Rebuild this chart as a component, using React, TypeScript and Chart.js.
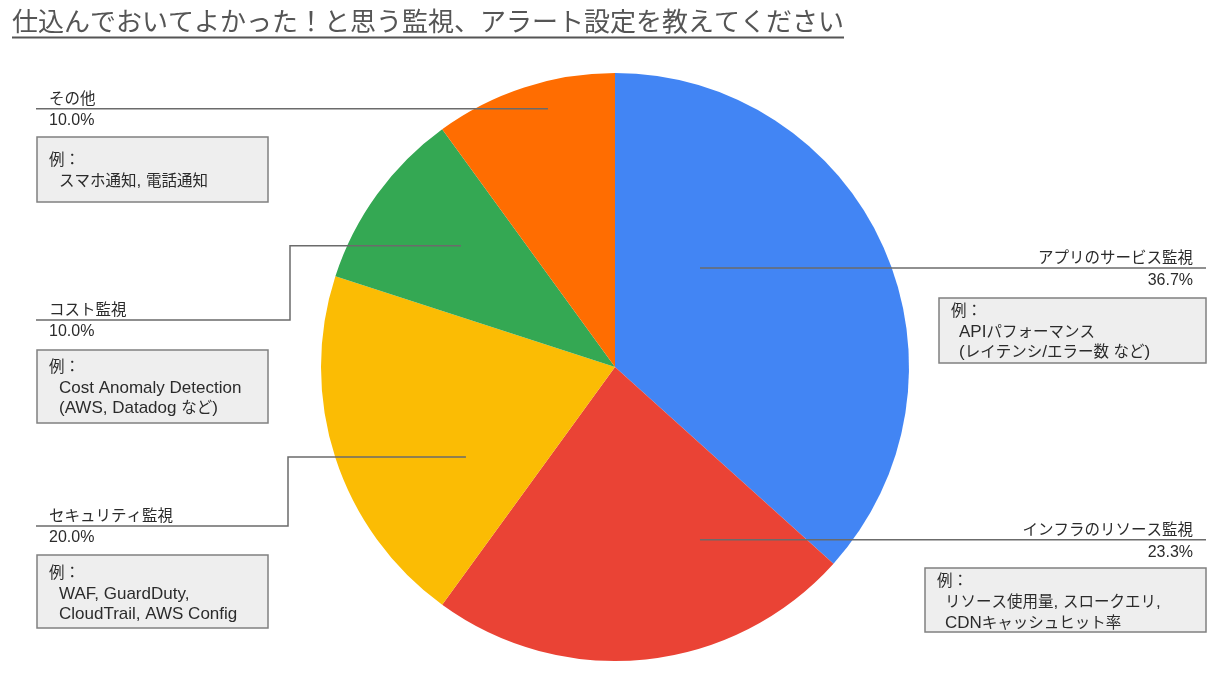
import { Chart, registerables, ChartItem } from "chart.js";
import { useEffect, useRef } from "react";

Chart.register(...registerables);

const title = "仕込んでおいてよかった！と思う監視、アラート設定を教えてください";

const categories = [
  "アプリのサービス監視",
  "インフラのリソース監視",
  "セキュリティ監視",
  "コスト監視",
  "その他",
];

// number of answers per category (30 in total)
const responses = [11, 7, 6, 3, 3];

const sliceColors = ["#4285F4", "#EA4335", "#FBBC04", "#34A853", "#FF6D01"];

const examples = [
  ["APIパフォーマンス", "(レイテンシ/エラー数 など)"],
  ["リソース使用量, スロークエリ,", "CDNキャッシュヒット率"],
  ["WAF, GuardDuty,", "CloudTrail, AWS Config"],
  ["Cost Anomaly Detection", "(AWS, Datadog など)"],
  ["スマホ通知, 電話通知"],
];

const LATIN = '"Liberation Sans", Arial, sans-serif';
const CJK = '"Noto Sans CJK JP", sans-serif';

interface ILabelLayout {
  side: "left" | "right";
  anchor: [number, number]; // relative to pie centre, in radius units
  elbowX?: number;
  lineY?: number;
  box: { x: number; y: number; w: number; h: number; first: number; lh: number };
}

const layout: ILabelLayout[] = [
  { side: "right", anchor: [0.289, -0.337], box: { x: 939, y: 298, w: 267, h: 65, first: 18, lh: 20.5 } },
  { side: "right", anchor: [0.289, 0.588], box: { x: 925, y: 568, w: 281, h: 64, first: 18, lh: 21 } },
  { side: "left", anchor: [-0.507, 0.306], elbowX: 288, lineY: 526, box: { x: 37, y: 555, w: 231, h: 73, first: 23, lh: 20.5 } },
  { side: "left", anchor: [-0.524, -0.412], elbowX: 290, lineY: 320, box: { x: 37, y: 350, w: 231, h: 73, first: 22, lh: 20.5 } },
  { side: "left", anchor: [-0.228, -0.878], box: { x: 37, y: 137, w: 231, h: 65, first: 28, lh: 21 } },
];

const total = responses.reduce((a, b) => a + b, 0);

// draws text where japanese runs and latin runs use a slightly different size
function drawMixed(
  ctx: CanvasRenderingContext2D,
  text: string,
  x: number,
  y: number,
  align: "left" | "right",
  cjkSize: number,
  latinSize: number
) {
  const runs = text.split(/([\u3000-\u30ff\u3400-\u9fff\uff00-\uffef]+)/).filter((r) => r.length > 0);
  const fonts = runs.map((r) =>
    /[\u3000-\u30ff\u3400-\u9fff\uff00-\uffef]/.test(r) ? `${cjkSize}px ${CJK}` : `${latinSize}px ${LATIN}`
  );
  const widths = runs.map((r, i) => {
    ctx.font = fonts[i];
    return ctx.measureText(r).width;
  });
  let cx = align === "right" ? x - widths.reduce((a, b) => a + b, 0) : x;
  ctx.textAlign = "left";
  runs.forEach((r, i) => {
    ctx.font = fonts[i];
    ctx.fillText(r, cx, y);
    cx += widths[i];
  });
}

const labelPlugin = {
  id: "sliceLabels",
  afterDraw(chart: Chart) {
    const ctx = chart.ctx;
    ctx.save();
    ctx.textBaseline = "alphabetic";

    // title with underline
    ctx.font = `26px ${CJK}`;
    ctx.fillStyle = "#555555";
    ctx.textAlign = "left";
    ctx.fillText(title, 12, 31);
    const tw = ctx.measureText(title).width;
    ctx.fillRect(12, 36.5, tw, 2);

    const meta = chart.getDatasetMeta(0);
    layout.forEach((lay, i) => {
      const arc: any = meta.data[i];
      const { x, y, outerRadius } = arc.getProps(["x", "y", "outerRadius"], true);
      const ax = x + lay.anchor[0] * outerRadius;
      const ay = y + lay.anchor[1] * outerRadius;
      const lineY = lay.lineY ?? ay;
      const endX = lay.side === "left" ? 36 : 1206;

      ctx.strokeStyle = "#6b6b6b";
      ctx.lineWidth = 1.5;
      ctx.beginPath();
      ctx.moveTo(ax, ay);
      if (lay.elbowX !== undefined) {
        ctx.lineTo(lay.elbowX, ay);
        ctx.lineTo(lay.elbowX, lineY);
      }
      ctx.lineTo(endX, lineY);
      ctx.stroke();

      const pct = ((responses[i] / total) * 100).toFixed(1) + "%";
      ctx.fillStyle = "#2b2b2b";
      if (lay.side === "left") {
        drawMixed(ctx, categories[i], 49, lineY - 5, "left", 15.5, 16);
        drawMixed(ctx, pct, 49, lineY + 16, "left", 15.5, 16);
      } else {
        drawMixed(ctx, categories[i], 1193, lineY - 5, "right", 15.5, 16);
        drawMixed(ctx, pct, 1193, lineY + 17, "right", 15.5, 16);
      }

      const b = lay.box;
      ctx.fillStyle = "#eeeeee";
      ctx.fillRect(b.x, b.y, b.w, b.h);
      ctx.strokeStyle = "#808080";
      ctx.lineWidth = 1.5;
      ctx.strokeRect(b.x, b.y, b.w, b.h);

      ctx.fillStyle = "#2b2b2b";
      drawMixed(ctx, "例：", b.x + 12, b.y + b.first, "left", 15.5, 17);
      const indent = lay.side === "left" ? 22 : 20;
      examples[i].forEach((line, k) => {
        drawMixed(ctx, line, b.x + indent, b.y + b.first + b.lh * (k + 1), "left", 15.5, 17);
      });
    });

    ctx.restore();
  },
};

export default function App() {
  const canvasRef = useRef<HTMLCanvasElement>(null);

  useEffect(() => {
    document.body.style.margin = "0";
    const currentCanvas = canvasRef.current;
    if (currentCanvas == null) return;

    const pieChart = new Chart(currentCanvas as ChartItem, {
      type: "pie",
      data: {
        labels: categories,
        datasets: [
          {
            data: responses,
            backgroundColor: sliceColors,
            borderWidth: 0,
          },
        ],
      },
      options: {
        animation: false,
        responsive: false,
        devicePixelRatio: 1,
        layout: { padding: { top: 73, bottom: 32, left: 0, right: 2 } },
        plugins: {
          legend: { display: false },
          tooltip: { enabled: false },
        },
      },
      plugins: [labelPlugin],
    });

    return () => {
      pieChart.destroy();
    };
  }, []);

  return (
    <div style={{ width: 1232, height: 693, background: "#ffffff" }}>
      <canvas ref={canvasRef} width={1232} height={693}></canvas>
    </div>
  );
}
